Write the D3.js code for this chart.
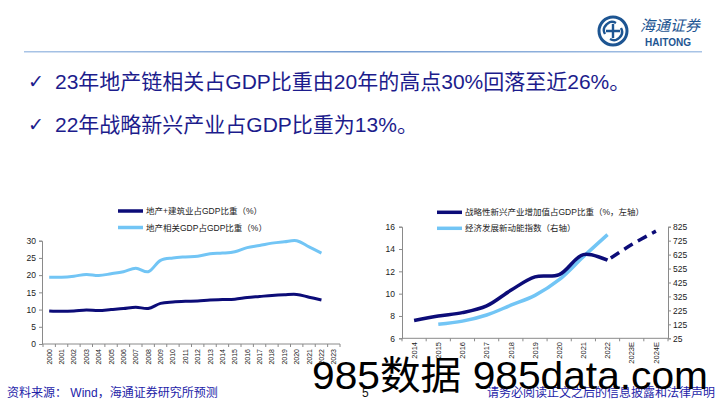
<!DOCTYPE html>
<html><head><meta charset="utf-8">
<script src="https://cdn.jsdelivr.net/npm/d3@7/dist/d3.min.js"></script>
<style>
html,body{margin:0;padding:0;background:#fff;}
svg{display:block;}
text{font-family:"Liberation Sans","Noto Sans CJK SC",sans-serif;}
</style></head>
<body>
<svg id="c" width="720" height="405"></svg>
<script>
// ---------- data ----------
const titleLines = ["23年地产链相关占GDP比重由20年的高点30%回落至近26%。", "22年战略新兴产业占GDP比重为13%。"];
const yearsL = ["2000","2001","2002","2003","2004","2005","2006","2007","2008","2009","2010","2011","2012","2013","2014","2015","2016","2017","2018","2019","2020","2021","2022","2023"];
const realEstateConstruction = [9.6,9.5,9.6,9.9,9.7,10.0,10.3,10.7,10.3,11.8,12.2,12.4,12.5,12.8,12.9,13.0,13.5,13.8,14.1,14.3,14.4,13.6,12.8,null];
const realEstateRelated = [19.4,19.4,19.7,20.2,19.9,20.4,21.0,22.0,21.0,24.3,25.0,25.3,25.5,26.2,26.4,26.8,28.0,28.6,29.3,29.7,30.0,28.2,26.4,null];
const yTicksL = [0,5,10,15,20,25,30];
const legendL = ["地产+建筑业占GDP比重（%）","地产相关GDP占GDP比重（%）"];

const yearsR = ["2014","2015","2016","2017","2018","2019","2020","2021","2022","2023E","2024E"];
const strategicShare = [7.6,8.0,8.3,8.9,10.3,11.5,11.7,13.5,13.0,14.4,15.6];
const strategicIsForecast = [false,false,false,false,false,false,false,false,false,true,true];
const newMomentumIndex = [null,125,148,192,262,333,445,610,768,null,null];
const yTicksR = [6,8,10,12,14,16];
const yTicksR2 = [25,125,225,325,425,525,625,725,825];
const legendR = ["战略性新兴产业增加值占GDP比重（%，左轴）","经济发展新动能指数（右轴）"];

const sourceText = "资料来源： Wind，海通证券研究所预测";
const disclaimer = "请务必阅读正文之后的信息披露和法律声明";
const pageNo = "5";

// ---------- styles ----------
const DARK = "#0c0c78", LIGHT = "#72c5f5", NAVY = "#1c1c8c", AX = "#8a8a8a";
const svg = d3.select("#c");

// header line
const grad = svg.append("defs").append("linearGradient").attr("id","hl");
grad.append("stop").attr("offset","0%").attr("stop-color","#a9c4e6");
grad.append("stop").attr("offset","50%").attr("stop-color","#6f98cf");
grad.append("stop").attr("offset","100%").attr("stop-color","#a9c4e6");
svg.append("rect").attr("x",24).attr("y",51).attr("width",678).attr("height",1.5).attr("fill","url(#hl)");

// logo
const lg = svg.append("g").attr("transform","translate(613,31)");
lg.append("circle").attr("r",14).attr("fill","none").attr("stroke","#1d5592").attr("stroke-width",3);
lg.append("path").attr("d","M-9,-3 Q-4,-12 3,-8 M9,3 Q4,12 -3,8 M-3,-9 Q-12,-4 -8,3 M3,9 Q12,4 8,-3").attr("fill","none").attr("stroke","#1d5592").attr("stroke-width",2.4);
lg.append("path").attr("d","M-7,0 H7 M0,-7 V7").attr("stroke","#1d5592").attr("stroke-width",2.4);
svg.append("text").attr("x",640).attr("y",31).attr("font-size",15).attr("font-style","italic").attr("fill","#1d5592").text("海通证券");
svg.append("text").attr("x",645).attr("y",46).attr("font-size",10).attr("font-weight","bold").attr("fill","#1d5592").text("HAITONG");

// title lines
titleLines.forEach((t,i)=>{
  const y = 89 + i*42.5;
  svg.append("text").attr("x",28).attr("y",y-1).attr("font-size",19).attr("fill",NAVY)
     .style("font-family","'DejaVu Sans'").text("✓");
  svg.append("text").attr("x",55).attr("y",y).attr("font-size",21).attr("fill",NAVY).text(t);
});

// ---------- left chart ----------
const xL = d3.scaleBand().domain(yearsL).range([43,340]);
const yL = d3.scaleLinear().domain([0,30]).range([344,240.7]);
const gL = svg.append("g");

gL.append("g").attr("transform","translate(42,0)")
  .call(d3.axisLeft(yL).tickValues(yTicksL).tickSize(3).tickPadding(3))
  .call(g=>{g.select(".domain").attr("stroke",AX);g.selectAll(".tick line").attr("stroke",AX);
    g.selectAll("text").attr("font-size",8.5).attr("fill","#222").style("font-family","'Liberation Sans'");});
// x axis
gL.append("line").attr("x1",42).attr("x2",340).attr("y1",344).attr("y2",344).attr("stroke",AX);
gL.selectAll(".xt").data(yearsL.concat(["end"])).join("line")
  .attr("x1",(d,i)=>43+i*xL.step()).attr("x2",(d,i)=>43+i*xL.step())
  .attr("y1",344).attr("y2",347).attr("stroke",AX);
gL.selectAll(".xl").data(yearsL).join("text")
  .attr("transform",d=>`translate(${xL(d)+xL.bandwidth()/2+2.5},349) rotate(-90)`)
  .attr("text-anchor","end").attr("font-size",7).attr("fill","#222").text(d=>d);

const lineL = arr => d3.line().defined(d=>d!=null)
  .x((d,i)=>xL(yearsL[i])+xL.bandwidth()/2).y(d=>yL(d)).curve(d3.curveCatmullRom)(arr);
gL.append("path").attr("d",lineL(realEstateRelated)).attr("fill","none").attr("stroke",LIGHT).attr("stroke-width",3);
gL.append("path").attr("d",lineL(realEstateConstruction)).attr("fill","none").attr("stroke",DARK).attr("stroke-width",3);

// legend left
[DARK,LIGHT].forEach((c,i)=>{
  const y = 211 + i*16.5;
  gL.append("line").attr("x1",118).attr("x2",143).attr("y1",y).attr("y2",y).attr("stroke",c).attr("stroke-width",3.5);
  gL.append("text").attr("x",146).attr("y",y+3).attr("font-size",8.5).attr("fill","#222").text(legendL[i]);
});

// ---------- right chart ----------
const xR = d3.scaleBand().domain(yearsR).range([402,668]);
const yR = d3.scaleLinear().domain([6,16]).range([338.3,226.7]);
const yR2 = d3.scaleLinear().domain([25,825]).range([338.3,226.7]);
const gR = svg.append("g");
gR.append("g").attr("transform","translate(402,0)")
  .call(d3.axisLeft(yR).tickValues(yTicksR).tickSize(3).tickPadding(4))
  .call(g=>{g.select(".domain").attr("stroke",AX);g.selectAll(".tick line").attr("stroke",AX);
    g.selectAll("text").attr("font-size",8.5).attr("fill","#222").style("font-family","'Liberation Sans'");});
gR.append("g").attr("transform","translate(668,0)")
  .call(d3.axisRight(yR2).tickValues(yTicksR2).tickSize(3).tickPadding(2))
  .call(g=>{g.select(".domain").attr("stroke",AX);g.selectAll(".tick line").attr("stroke",AX);
    g.selectAll("text").attr("font-size",8.5).attr("fill","#222").style("font-family","'Liberation Sans'");});
gR.append("line").attr("x1",402).attr("x2",668).attr("y1",338.3).attr("y2",338.3).attr("stroke",AX);
gR.selectAll(".xt").data(yearsR.concat(["end"])).join("line")
  .attr("x1",(d,i)=>402+i*xR.step()).attr("x2",(d,i)=>402+i*xR.step())
  .attr("y1",338.3).attr("y2",341.3).attr("stroke",AX);
gR.selectAll(".xl").data(yearsR).join("text")
  .attr("transform",d=>`translate(${xR(d)+xR.bandwidth()/2+2.7},342) rotate(-90)`)
  .attr("text-anchor","end").attr("font-size",7.5).attr("fill","#222").text(d=>d);

const cx = i => xR(yearsR[i])+xR.bandwidth()/2;
const ptsAll = strategicShare.map((v,i)=>[cx(i),yR(v)]);
const lastActual = strategicIsForecast.indexOf(true)-1;
const curve = d3.line().curve(d3.curveCatmullRom);
gR.append("path").attr("d",d3.line().defined((d,i)=>newMomentumIndex[i]!=null)
    .x((d,i)=>cx(i)).y(d=>yR2(d)).curve(d3.curveCatmullRom)(newMomentumIndex))
  .attr("fill","none").attr("stroke",LIGHT).attr("stroke-width",3.5);
gR.append("path").attr("d",curve(ptsAll.slice(0,lastActual+1)))
  .attr("fill","none").attr("stroke",DARK).attr("stroke-width",3.5);
gR.append("path").attr("d",curve(ptsAll.slice(lastActual)))
  .attr("fill","none").attr("stroke",DARK).attr("stroke-width",3.5).attr("stroke-dasharray","10,6").attr("stroke-dashoffset",-4);

[DARK,LIGHT].forEach((c,i)=>{
  const y = 212.3 + i*16;
  gR.append("line").attr("x1",437).attr("x2",462).attr("y1",y).attr("y2",y).attr("stroke",c).attr("stroke-width",3.5);
  gR.append("text").attr("x",465).attr("y",y+3).attr("font-size",8.5).attr("fill","#222").text(legendR[i]);
});

// ---------- footer ----------
svg.append("text").attr("x",7).attr("y",397).attr("font-size",12).attr("fill","#2323a8").text(sourceText);
svg.append("text").attr("x",715).attr("y",397).attr("text-anchor","end").attr("font-size",12).attr("fill","#2323a8").text(disclaimer);
svg.append("text").attr("x",362).attr("y",397).attr("font-size",12).attr("fill","#111").text(pageNo);

// watermark
svg.append("text").attr("x",312).attr("y",389).attr("font-size",39).attr("fill","#000")
  .attr("textLength",396).attr("lengthAdjust","spacingAndGlyphs").text("985数据 985data.com");
</script>
</body></html>
